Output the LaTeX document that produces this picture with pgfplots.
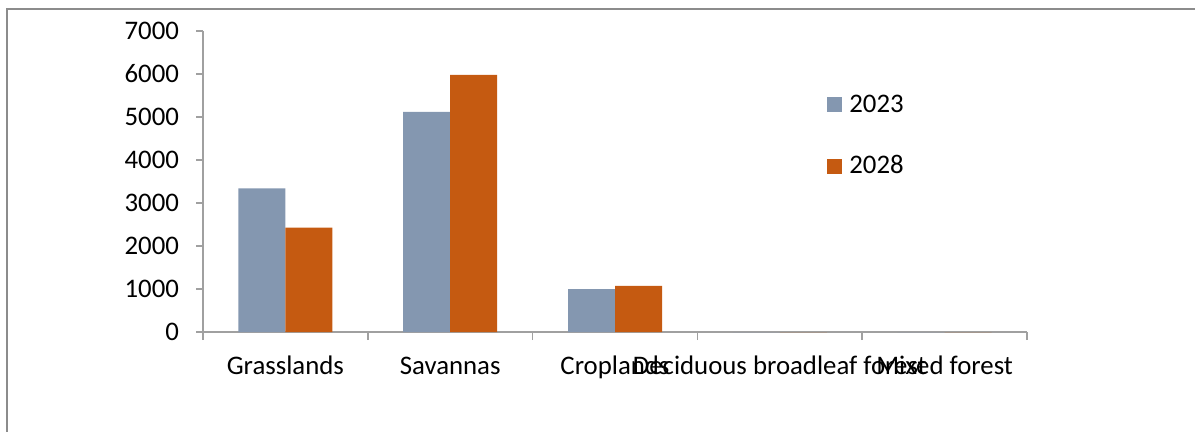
\documentclass[border=0pt]{standalone}
\usepackage{fontspec}
\setmainfont{Carlito}
\usepackage{pgfplots}
\pgfplotsset{compat=1.18}
\usepackage{pgfplotstable}

\definecolor{bluegray}{RGB}{132,151,176}
\definecolor{rust}{RGB}{197,90,17}
\definecolor{axisgray}{RGB}{160,160,160}
\definecolor{framegray}{RGB}{140,140,140}

% land cover area per class
\pgfplotstableread{
idx y2023 y2028
0   3340  2430
1   5120  5980
2   995   1070
3   0     0
4   0     0
}\landcover

\begin{document}
\begin{tikzpicture}
\path[use as bounding box] (0,0) rectangle (597.5bp,-216bp);
% chart frame (cut by the right and bottom edges)
\draw[framegray, line width=0.8bp] (3.5bp,-260bp) -- (3.5bp,-4.6bp) -- (700bp,-4.6bp);
\begin{axis}[
    at={(101.5bp,-166bp)}, anchor=south west,
    scale only axis,
    width=412bp, height=150.5bp,
    ybar=0pt, bar width=23.5bp,
    xmin=-0.5, xmax=4.5,
    ymin=0, ymax=7000,
    axis x line*=bottom, axis y line*=left,
    axis line style={axisgray, line width=0.8bp},
    every tick/.style={axisgray, line width=0.8bp},
    tick align=outside,
    xtick={0,...,4},
    xticklabels={Grasslands, Savannas, Croplands, Deciduous broadleaf forest, Mixed forest},
    major x tick style={draw=none},
    minor xtick={-0.5,0.5,...,4.5},
    minor tick length=4bp,
    ytick={0,1000,...,7000},
    major tick length=3.5bp,
    /pgf/number format/assume math mode=true,
    /pgf/number format/1000 sep={},
    ticklabel style={font=\fontsize{13.4bp}{15bp}\selectfont},
    yticklabel style={xshift=-5bp},
    xticklabel style={yshift=-4.5bp, text height=9.5bp, text depth=3bp},
    legend style={draw=none, fill=none, inner sep=0pt, outer sep=0pt,
        at={(0.757,0.80)}, anchor=north west,
        font=\fontsize{13.4bp}{15bp}\selectfont,
        row sep=16.5bp,
        nodes={inner sep=1.8bp},
        /tikz/every odd column/.style={column sep=2bp}},
    legend cell align=left,
    legend image code/.code={\fill[#1] (0bp,-3.75bp) rectangle (7.5bp,3.75bp);},
]
\addplot[fill=bluegray, draw=none] table[x=idx, y=y2023] {\landcover};
\addplot[fill=rust, draw=none] table[x=idx, y=y2028] {\landcover};
\legend{2023, 2028}
\end{axis}
\end{tikzpicture}
\end{document}
